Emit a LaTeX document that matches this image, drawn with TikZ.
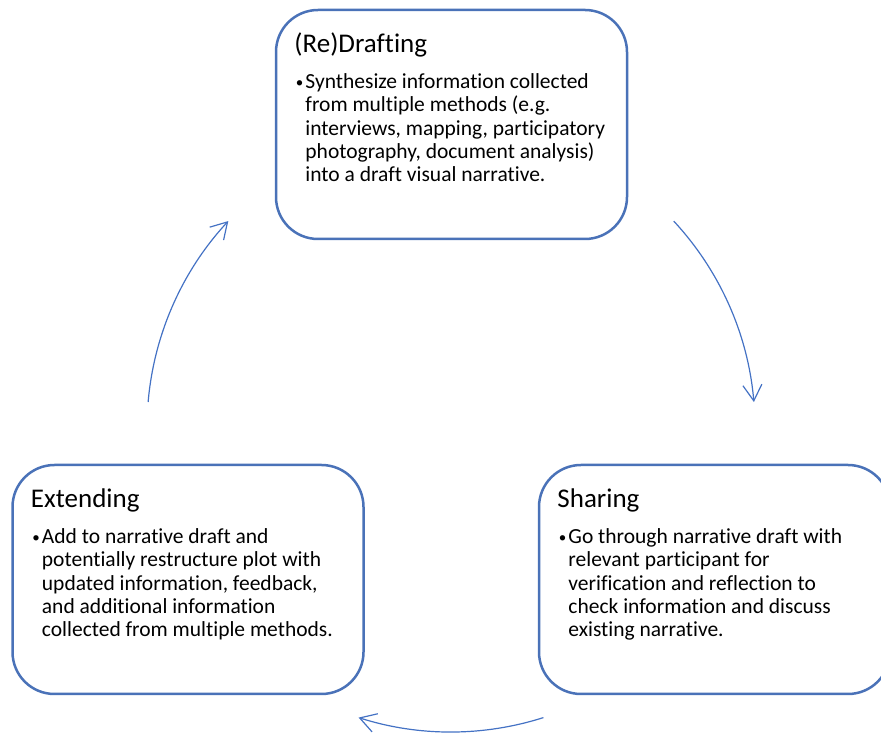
\documentclass[tikz,border=0pt]{standalone}
\usepackage{fontspec}
\setmainfont[Ligatures=NoCommon]{Carlito}
\usetikzlibrary{arrows.meta}
\definecolor{boxblue}{HTML}{4A72B8}
\definecolor{arrowblue}{HTML}{4472C4}
% small bullet followed by a hanging block of lines
\newcommand{\bulletpar}[1]{%
  \makebox[9.5pt][l]{\raisebox{1pt}{\fontsize{15}{15}\selectfont\textbullet}}%
  \parbox[t]{320pt}{\raggedright #1}}
\begin{document}
\begin{tikzpicture}[x=1pt,y=1pt,
  stage/.style={draw=boxblue, line width=2.5pt, rounded corners=42pt,
    minimum width=351pt, minimum height=229pt, inner sep=0pt, fill=white},
  stagetitle/.style={anchor=base west, inner sep=0pt,
    font=\fontsize{27}{30}\selectfont},
  stagebody/.style={anchor=base west, inner sep=0pt,
    font=\fontsize{21.5}{23.2}\selectfont},
  cycarrow/.style={draw=arrowblue, line width=1.2pt,
    -{Straight Barb[length=16pt,width=19pt]}}]
\useasboundingbox (0,0) rectangle (881,733);
\clip (0,0) rectangle (881,733);

% centre of the cycle
\coordinate (c) at (451,305);

% the three stages
\node[stage] (draft) at (451.5,608.5) {};
\node[stage] (extend) at (188,153.5) {};
\node[stage] (share) at (714.5,153.5) {};

% titles
\node[stagetitle] (draftT) at ([shift={(19.5,-44)}]draft.north west) {(Re)Drafting};
\node[stagetitle] (extendT) at ([shift={(19.5,-44)}]extend.north west) {Extending};
\node[stagetitle] (shareT) at ([shift={(19.5,-44)}]share.north west) {Sharing};

% bullet texts
\node[stagebody] (draftB) at ([shift={(21,-80)}]draft.north west)
  {\bulletpar{Synthesize information collected\\from multiple methods (e.g.\\interviews, mapping, participatory\\photography, document analysis)\\into a draft visual narrative.}};
\node[stagebody] (extendB) at ([shift={(21,-80)}]extend.north west)
  {\bulletpar{Add to narrative draft and\\potentially restructure plot with\\updated information, feedback,\\and additional information\\collected from multiple methods.}};
\node[stagebody] (shareB) at ([shift={(21,-80)}]share.north west)
  {\bulletpar{Go through narrative draft with\\relevant participant for\\verification and reflection to\\check information and discuss\\existing narrative.}};

% curved arrows on a circle around the centre
\coordinate (a1) at ([shift={(42.9:304pt)}]c);
\coordinate (a2) at ([shift={(-72.3:304pt)}]c);
\coordinate (a3) at ([shift={(175.1:304pt)}]c);
\draw[cycarrow] (a1) arc[start angle=42.9, end angle=4.9, radius=304pt];
\draw[cycarrow] (a2) arc[start angle=-72.3, end angle=-107.7, radius=304pt];
\draw[cycarrow] (a3) arc[start angle=175.1, end angle=137.1, radius=304pt];
\end{tikzpicture}
\end{document}
